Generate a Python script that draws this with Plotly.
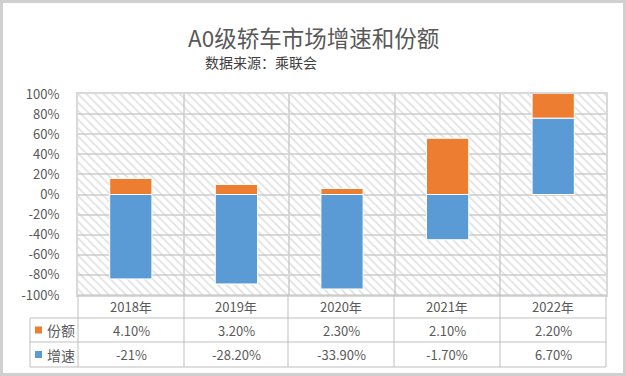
import plotly.graph_objects as go

categories = ["2018年", "2019年", "2020年", "2021年", "2022年"]
growth_bar = [-84, -89, -94, -45, 76]
share_bar = [16, 10, 6, 56, 26]
share_table = ["4.10%", "3.20%", "2.30%", "2.10%", "2.20%"]
growth_table = ["-21%", "-28.20%", "-33.90%", "-1.70%", "6.70%"]
y_ticks = [-100, -80, -60, -40, -20, 0, 20, 40, 60, 80, 100]
y_tick_labels = [f"{v}%" for v in y_ticks]

W, H = 626, 376
L, R, T, B = 78, 20, 94, 81
PW = W - L - R
PH = H - T - B

def px(x):
    return (x - L) / PW

def py(y):
    return (H - B - y) / PH

FONT = "Noto Sans CJK SC"
TXT = "#595959"
GRID = "#D9D9D9"
ORANGE = "#ED7D31"
BLUE = "#5B9BD5"

xs = list(range(len(categories)))

fig = go.Figure()
fig.add_trace(go.Scatter(
    x=[-0.5, 4.5, 4.5, -0.5, -0.5], y=[-100, -100, 100, 100, -100],
    fill="toself", mode="none", fillcolor="rgba(0,0,0,0)",
    fillpattern=dict(shape="\\", fgcolor="#C4C4C4", bgcolor="rgba(255,255,255,0)", size=6, solidity=0.3),
    hoverinfo="skip", showlegend=False, xaxis="x", yaxis="y"))
fig.add_trace(go.Bar(x=xs, y=growth_bar, name="增速", marker=dict(color=BLUE, line=dict(color="white", width=1)),
                     width=0.4, xaxis="x2", yaxis="y2"))
fig.add_trace(go.Bar(x=xs, y=share_bar, name="份额", marker=dict(color=ORANGE, line=dict(color="white", width=1)),
                     width=0.4, xaxis="x2", yaxis="y2"))

fig.update_layout(
    width=W, height=H, barmode="relative", showlegend=False,
    margin=dict(l=L, r=R, t=T, b=B),
    paper_bgcolor="white", plot_bgcolor="white",
    font=dict(family=FONT, color=TXT, size=13),
    xaxis=dict(range=[-0.5, 4.5], tickvals=[-0.5, 0.5, 1.5, 2.5, 3.5, 4.5], showticklabels=False,
               showgrid=True, gridcolor=GRID, gridwidth=2, zeroline=False,
               showline=True, linecolor=GRID, linewidth=2, mirror=True, ticks=""),
    yaxis=dict(range=[-100, 100], tickvals=y_ticks, ticktext=y_tick_labels, showgrid=True, gridcolor=GRID, gridwidth=2,
               zeroline=False, showline=True, linecolor=GRID, linewidth=2, mirror=True,
               ticks="", ticklabelstandoff=14, tickfont=dict(size=13, color=TXT)),
    xaxis2=dict(range=[-0.5, 4.5], overlaying="x", visible=False, showgrid=False, zeroline=False),
    yaxis2=dict(range=[-100, 100], overlaying="y", visible=False, showgrid=False, zeroline=False),
)

shapes = []
ann = []
shapes.append(dict(type="rect", xref="paper", yref="paper", x0=px(1.5), x1=px(W - 1.5), y0=py(1.5), y1=py(H - 1.5),
                   line=dict(color="#D0D0D0", width=3), layer="above"))

TC = "#BFBFBF"
col_edges = [78, 184, 288, 394, 500, 606]
row_edges = [295, 318, 342, 367]
shapes.append(dict(type="line", xref="paper", yref="paper", x0=px(78), x1=px(606), y0=py(295), y1=py(295), line=dict(color=TC, width=1)))
for yy in row_edges[1:]:
    shapes.append(dict(type="line", xref="paper", yref="paper", x0=px(30), x1=px(606), y0=py(yy), y1=py(yy), line=dict(color=TC, width=1)))
for xx in col_edges:
    shapes.append(dict(type="line", xref="paper", yref="paper", x0=px(xx), x1=px(xx), y0=py(295), y1=py(367), line=dict(color=TC, width=1)))
shapes.append(dict(type="line", xref="paper", yref="paper", x0=px(30), x1=px(30), y0=py(318), y1=py(367), line=dict(color=TC, width=1)))

row_centers = [306.5, 330, 354.5]
for i in range(len(categories)):
    cx = (col_edges[i] + col_edges[i + 1]) / 2
    for rc, txt in zip(row_centers, [categories[i], share_table[i], growth_table[i]]):
        ann.append(dict(xref="paper", yref="paper", x=px(cx), y=py(rc), text=txt, showarrow=False,
                        xanchor="center", yanchor="middle", font=dict(size=13, color=TXT, family=FONT)))

for rc, color, label in [(330, ORANGE, "份额"), (354.5, BLUE, "增速")]:
    shapes.append(dict(type="rect", xref="paper", yref="paper", x0=px(35), x1=px(42), y0=py(rc - 3.5), y1=py(rc + 3.5),
                       fillcolor=color, line=dict(width=0)))
    ann.append(dict(xref="paper", yref="paper", x=px(45), y=py(rc), text=label, showarrow=False,
                    xanchor="left", yanchor="middle", font=dict(size=14, color=TXT, family=FONT)))

ann.append(dict(xref="paper", yref="paper", x=px(W / 2), y=py(37), text="A0级轿车市场增速和份额", showarrow=False,
                xanchor="center", yanchor="middle", font=dict(size=22.5, color="#595959", family=FONT)))
ann.append(dict(xref="paper", yref="paper", x=px(261), y=py(62), text="数据来源：乘联会", showarrow=False,
                xanchor="center", yanchor="middle", font=dict(size=14, color="#404040", family=FONT)))

fig.update_layout(shapes=shapes, annotations=ann)
fig.write_html("out.html", config={"displayModeBar": False},
               post_script="document.body.style.margin='0';document.body.style.overflow='hidden';")
